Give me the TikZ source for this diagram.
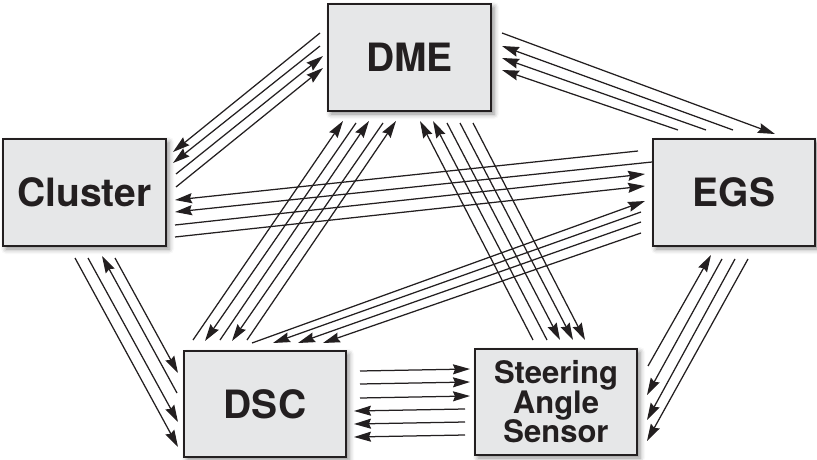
\documentclass[tikz,border=0pt]{standalone}
\usepackage{fontspec}
\newfontfamily\heros{TeX Gyre Heros}
\usetikzlibrary{arrows.meta,shadows.blur}
\definecolor{ink}{HTML}{231F20}
\definecolor{boxfill}{HTML}{E6E7E8}
\begin{document}
\begin{tikzpicture}[x=1pt,y=-1pt,
  ecu/.style={draw=ink, line width=1.6pt, fill=boxfill, outer sep=0pt, inner sep=0pt,
    minimum width=163pt, minimum height=107pt, text=ink,
    font=\heros\bfseries\fontsize{39}{39}\selectfont,
    blur shadow={shadow xshift=3pt, shadow yshift=-3pt, shadow blur radius=5pt, shadow opacity=45}},
  link/.style={draw=ink, line width=1.25pt, arrows={-Stealth[length=17pt, width=10pt, inset=2pt]}}]

\useasboundingbox (0,0) rectangle (817,460);

% control units
\node[ecu] (dme) at (409.5,57.5) {DME};
\node[ecu, minimum width=162pt] (egs) at (734,192.5) {EGS};
\node[ecu] (cluster) at (84.5,192.5) {Cluster};
\node[ecu, minimum width=162pt, minimum height=106pt] (dsc) at (265,404) {DSC};
\node[ecu, minimum width=162pt, minimum height=106pt, align=center,
  font=\heros\bfseries\fontsize{31}{28.5}\selectfont] (sas) at (556,402) {Steering\\[-1pt]Angle\\[-1pt]Sensor};

% DME <-> Cluster
\draw[link] ([shift={(-8,29)}]dme.north west) -- ([shift={(7,13)}]cluster.north east);
\draw[link] ([shift={(-8,42)}]dme.north west) -- ([shift={(7,24)}]cluster.north east);
\draw[link] ([shift={(10,35)}]cluster.north east) -- ([shift={(-5,52)}]dme.north west);
\draw[link] ([shift={(10,48)}]cluster.north east) -- ([shift={(-5,64)}]dme.north west);

% DME <-> EGS
\draw[link] ([shift={(11,29)}]dme.north east) -- ([shift={(122,-5)}]egs.north west);
\draw[link] ([shift={(80,-9)}]egs.north west) -- ([shift={(11,42)}]dme.north east);
\draw[link] ([shift={(53,-9)}]egs.north west) -- ([shift={(11,54)}]dme.north east);
\draw[link] ([shift={(25,-9)}]egs.north west) -- ([shift={(11,66)}]dme.north east);

% Cluster <-> EGS
\draw[link] ([shift={(-15,12)}]egs.north west) -- ([shift={(9,61)}]cluster.north east);
\draw[link] ([shift={(-1,23)}]egs.north west) -- ([shift={(9,73)}]cluster.north east);
\draw[link] ([shift={(9,86)}]cluster.north east) -- ([shift={(-8,35)}]egs.north west);
\draw[link] ([shift={(9,98)}]cluster.north east) -- ([shift={(-8,47)}]egs.north west);

% Cluster <-> DSC
\draw[link] ([shift={(112,12)}]cluster.south west) -- ([shift={(-6,22)}]dsc.north west);
\draw[link] ([shift={(-7,42)}]dsc.north west) -- ([shift={(99,10)}]cluster.south west);
\draw[link] ([shift={(85,12)}]cluster.south west) -- ([shift={(-6,71)}]dsc.north west);
\draw[link] ([shift={(72,12)}]cluster.south west) -- ([shift={(-6,96)}]dsc.north west);

% DME <-> DSC
\draw[link] ([shift={(9,-11)}]dsc.north west) -- ([shift={(15,10)}]dme.south west);
\draw[link] ([shift={(28,12)}]dme.south west) -- ([shift={(21,-10)}]dsc.north west);
\draw[link] ([shift={(36,-11)}]dsc.north west) -- ([shift={(41,10)}]dme.south west);
\draw[link] ([shift={(55,12)}]dme.south west) -- ([shift={(48,-10)}]dsc.north west);
\draw[link] ([shift={(63,-11)}]dsc.north west) -- ([shift={(68,10)}]dme.south west);

% DME <-> steering angle sensor
\draw[link] ([shift={(58,-9)}]sas.north west) -- ([shift={(92,10)}]dme.south west);
\draw[link] ([shift={(72,-9)}]sas.north west) -- ([shift={(105,10)}]dme.south west);
\draw[link] ([shift={(119,12)}]dme.south west) -- ([shift={(85,-9)}]sas.north west);
\draw[link] ([shift={(132,12)}]dme.south west) -- ([shift={(98,-9)}]sas.north west);
\draw[link] ([shift={(145,12)}]dme.south west) -- ([shift={(110,-9)}]sas.north west);

% EGS <-> DSC
\draw[link] ([shift={(-94,-8)}]dsc.north east) -- ([shift={(-8,62)}]egs.north west);
\draw[link] ([shift={(-12,73)}]egs.north west) -- ([shift={(-73,-8)}]dsc.north east);
\draw[link] ([shift={(-12,83)}]egs.north west) -- ([shift={(-48,-8)}]dsc.north east);
\draw[link] ([shift={(-12,94)}]egs.north west) -- ([shift={(-23,-8)}]dsc.north east);

% EGS <-> steering angle sensor
\draw[link] ([shift={(11,17)}]sas.north east) -- ([shift={(58,9)}]egs.south west);
\draw[link] ([shift={(69,13)}]egs.south west) -- ([shift={(10,46)}]sas.north east);
\draw[link] ([shift={(82,13)}]egs.south west) -- ([shift={(10,71)}]sas.north east);
\draw[link] ([shift={(95,13)}]egs.south west) -- ([shift={(10,92)}]sas.north east);

% DSC <-> steering angle sensor
\draw[link] ([shift={(14,20)}]dsc.north east) -- ([shift={(-5,20)}]sas.north west);
\draw[link] ([shift={(14,33)}]dsc.north east) -- ([shift={(-5,33)}]sas.north west);
\draw[link] ([shift={(14,47)}]dsc.north east) -- ([shift={(-5,47)}]sas.north west);
\draw[link] ([shift={(-10,60)}]sas.north west) -- ([shift={(8,60)}]dsc.north east);
\draw[link] ([shift={(-10,73)}]sas.north west) -- ([shift={(8,73)}]dsc.north east);
\draw[link] ([shift={(-10,86)}]sas.north west) -- ([shift={(8,86)}]dsc.north east);
\end{tikzpicture}
\end{document}
